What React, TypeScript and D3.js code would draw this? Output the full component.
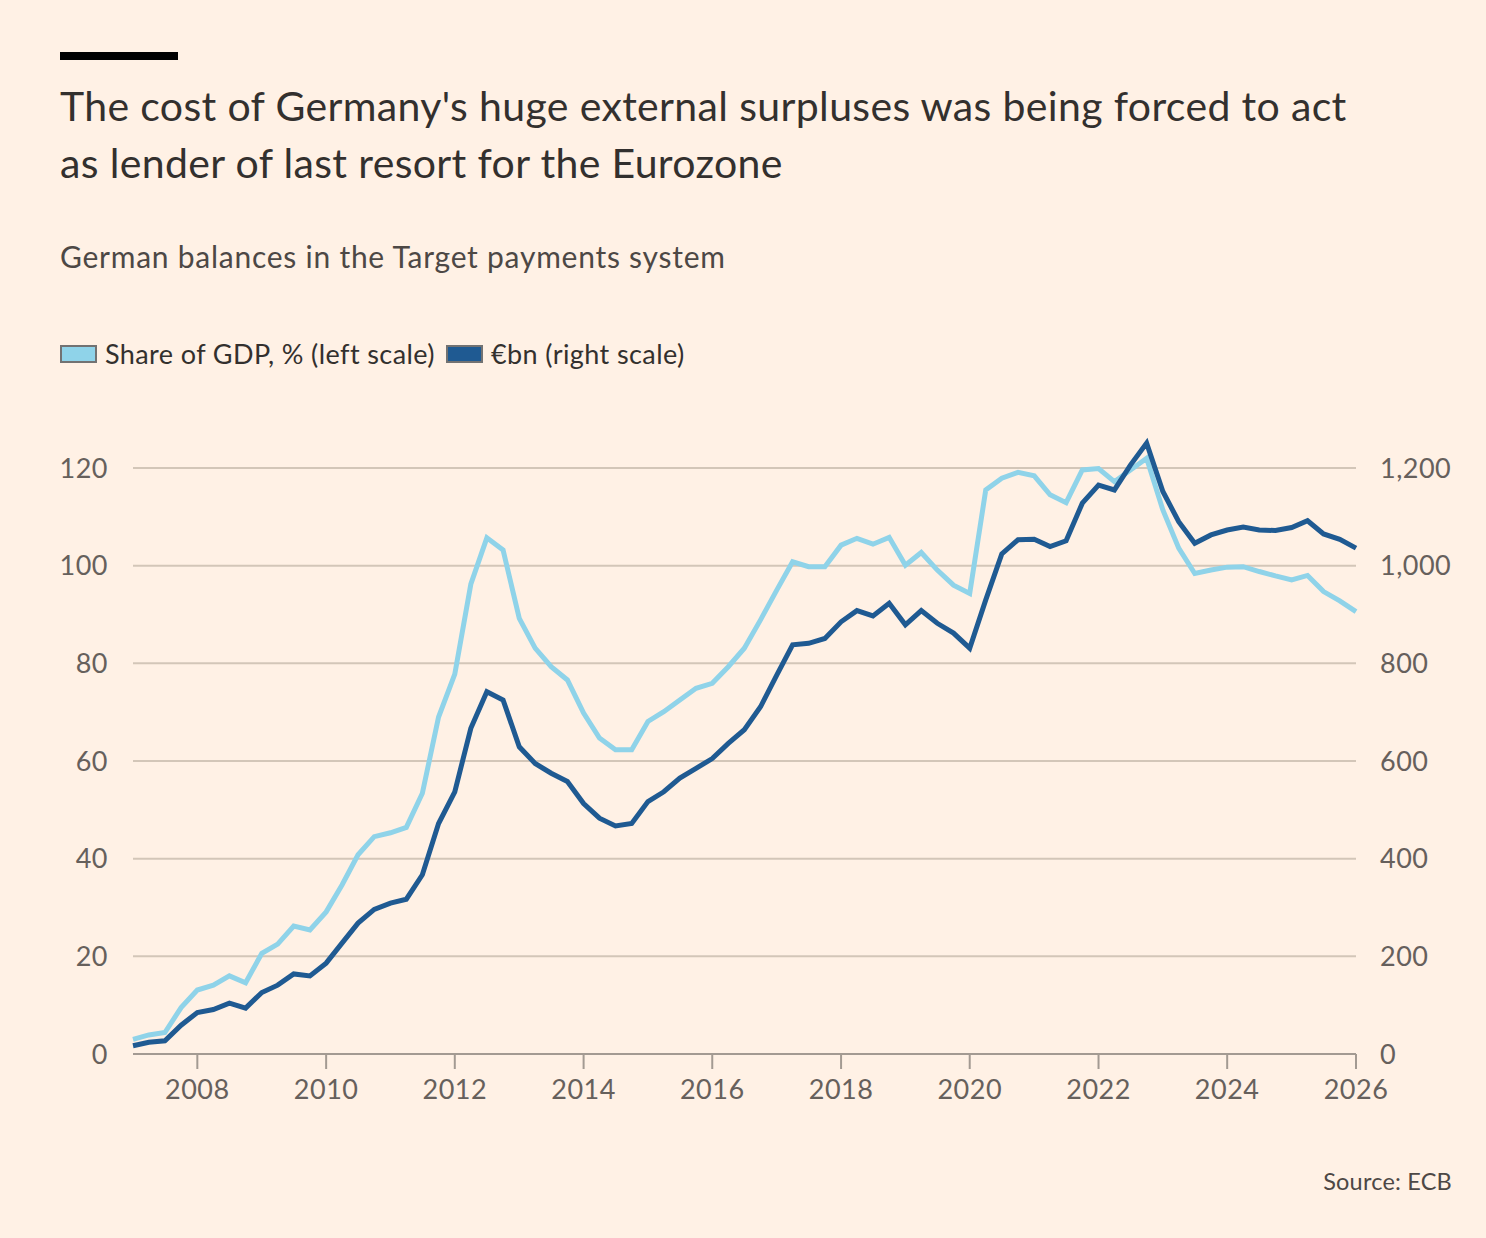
import { useEffect, useRef } from "react";
import * as d3 from "d3";

// Quarterly observations, 2007Q1 to 2026Q1
const quarters = [
  "2007Q1", "2007Q2", "2007Q3", "2007Q4",
  "2008Q1", "2008Q2", "2008Q3", "2008Q4",
  "2009Q1", "2009Q2", "2009Q3", "2009Q4",
  "2010Q1", "2010Q2", "2010Q3", "2010Q4",
  "2011Q1", "2011Q2", "2011Q3", "2011Q4",
  "2012Q1", "2012Q2", "2012Q3", "2012Q4",
  "2013Q1", "2013Q2", "2013Q3", "2013Q4",
  "2014Q1", "2014Q2", "2014Q3", "2014Q4",
  "2015Q1", "2015Q2", "2015Q3", "2015Q4",
  "2016Q1", "2016Q2", "2016Q3", "2016Q4",
  "2017Q1", "2017Q2", "2017Q3", "2017Q4",
  "2018Q1", "2018Q2", "2018Q3", "2018Q4",
  "2019Q1", "2019Q2", "2019Q3", "2019Q4",
  "2020Q1", "2020Q2", "2020Q3", "2020Q4",
  "2021Q1", "2021Q2", "2021Q3", "2021Q4",
  "2022Q1", "2022Q2", "2022Q3", "2022Q4",
  "2023Q1", "2023Q2", "2023Q3", "2023Q4",
  "2024Q1", "2024Q2", "2024Q3", "2024Q4",
  "2025Q1", "2025Q2", "2025Q3", "2025Q4",
  "2026Q1",
];

// Share of GDP, % (left scale)
const shareOfGdp = [
  3.0, 3.9, 4.4, 9.5,
  13.1, 14.1, 16.0, 14.6,
  20.6, 22.5, 26.2, 25.4,
  29.1, 34.6, 40.8, 44.5,
  45.3, 46.4, 53.4, 69.0,
  77.8, 96.2, 105.7, 103.2,
  89.2, 83.1, 79.3, 76.6,
  69.8, 64.7, 62.3, 62.3,
  68.1, 70.1, 72.5, 74.9,
  75.9, 79.3, 83.1, 88.9,
  95.0, 100.8, 99.8, 99.8,
  104.2, 105.6, 104.4, 105.8,
  100.1, 102.7, 99.1, 96.0,
  94.3, 115.5, 117.9, 119.1,
  118.4, 114.5, 112.9, 119.6,
  119.9, 117.2, 119.6, 122.0,
  111.4, 103.6, 98.4, 99.1,
  99.7, 99.8, 98.8, 97.9,
  97.1, 98.0, 94.7, 92.8,
  90.6,
];

// €bn (right scale)
const euroBn = [
  17, 24, 27, 59,
  85, 91, 104, 94,
  126, 141, 164, 160,
  186, 227, 268, 296,
  309, 317, 367, 472,
  537, 667, 742, 725,
  629, 595, 575, 558,
  513, 483, 467, 472,
  517, 537, 565, 585,
  605, 636, 664, 711,
  776, 838, 841, 851,
  885, 908, 897, 923,
  879, 908, 882, 862,
  831, 930, 1024, 1053,
  1054, 1039, 1051, 1128,
  1165, 1155, 1206, 1251,
  1152, 1090, 1046, 1063,
  1073, 1079, 1073, 1072,
  1078, 1092, 1065, 1054,
  1036,
];

const yearTicks = [2008, 2010, 2012, 2014, 2016, 2018, 2020, 2022, 2024, 2026];
const leftTicks = [0, 20, 40, 60, 80, 100, 120];
const rightTicks = [0, 200, 400, 600, 800, 1000, 1200];

const WIDTH = 1486;
const HEIGHT = 1238;
const FONT = "Lato, 'Noto Sans', sans-serif";

const COLORS = {
  bg: "#fff1e5",
  light: "#8fd3e9",
  dark: "#1f5a92",
  title: "#33302e",
  text: "#4d4845",
  tick: "#66605c",
  grid: "#d3c6b8",
  axis: "#a39a92",
  swatchStroke: "#727272",
};

function parseQuarter(q: string) {
  const [y, n] = q.split("Q");
  return new Date(+y, (+n - 1) * 3, 1);
}

export default function App() {
  const svgRef = useRef<SVGSVGElement>(null);

  useEffect(() => {
    if (!svgRef.current) return;
    document.body.style.margin = "0";
    document.body.style.background = COLORS.bg;

    const svg = d3.select(svgRef.current);
    svg.selectAll("*").remove();

    const margin = { top: 468, right: 130, bottom: 184, left: 133 };
    const dates = quarters.map(parseQuarter);

    const x = d3.scaleTime()
      .domain([new Date(2007, 0, 1), new Date(2026, 0, 1)])
      .range([margin.left, WIDTH - margin.right]);
    const yLeft = d3.scaleLinear().domain([0, 120]).range([HEIGHT - margin.bottom, margin.top]);
    const yRight = d3.scaleLinear().domain([0, 1200]).range([HEIGHT - margin.bottom, margin.top]);

    svg.append("rect").attr("width", WIDTH).attr("height", HEIGHT).attr("fill", COLORS.bg);

    // Header
    svg.append("rect").attr("x", 60).attr("y", 52).attr("width", 118).attr("height", 8).attr("fill", "#000");

    const title = svg.append("text")
      .attr("font-family", FONT)
      .attr("font-size", 41)
      .attr("letter-spacing", 0.35)
      .attr("fill", COLORS.title);
    title.append("tspan").attr("x", 60).attr("y", 121)
      .text("The cost of Germany's huge external surpluses was being forced to act");
    title.append("tspan").attr("x", 60).attr("y", 178)
      .text("as lender of last resort for the Eurozone");

    svg.append("text")
      .attr("x", 60).attr("y", 268)
      .attr("font-family", FONT).attr("font-size", 30)
      .attr("letter-spacing", 0.75)
      .attr("fill", COLORS.text)
      .text("German balances in the Target payments system");

    // Legend
    const legend = [
      { label: "Share of GDP, % (left scale)", color: COLORS.light, x: 60 },
      { label: "€bn (right scale)", color: COLORS.dark, x: 446 },
    ];
    const lg = svg.append("g").selectAll("g").data(legend).join("g")
      .attr("transform", d => `translate(${d.x},0)`);
    lg.append("rect")
      .attr("x", 1).attr("y", 346).attr("width", 35).attr("height", 16)
      .attr("fill", d => d.color)
      .attr("stroke", COLORS.swatchStroke).attr("stroke-width", 2);
    lg.append("text")
      .attr("x", 45).attr("y", 364)
      .attr("font-family", FONT).attr("font-size", 27)
      .attr("letter-spacing", 0.4)
      .attr("fill", COLORS.title)
      .text(d => d.label);

    // Grid
    svg.append("g").selectAll("line")
      .data(leftTicks.filter(t => t > 0))
      .join("line")
      .attr("x1", margin.left).attr("x2", WIDTH - margin.right)
      .attr("y1", d => yLeft(d)).attr("y2", d => yLeft(d))
      .attr("stroke", COLORS.grid).attr("stroke-width", 2);

    // Left labels
    svg.append("g").selectAll("text")
      .data(leftTicks)
      .join("text")
      .attr("x", 108)
      .attr("y", d => yLeft(d))
      .attr("dy", "0.36em")
      .attr("text-anchor", "end")
      .attr("font-family", FONT).attr("font-size", 27)
      .attr("letter-spacing", 0.5)
      .attr("fill", COLORS.tick)
      .text(d => d);

    // Right labels
    svg.append("g").selectAll("text")
      .data(rightTicks)
      .join("text")
      .attr("x", 1380)
      .attr("y", d => yRight(d))
      .attr("dy", "0.36em")
      .attr("text-anchor", "start")
      .attr("font-family", FONT).attr("font-size", 27)
      .attr("letter-spacing", 0.5)
      .attr("fill", COLORS.tick)
      .text(d => d3.format(",")(d));

    // X axis
    const baseY = yLeft(0);
    svg.append("line")
      .attr("x1", margin.left).attr("x2", WIDTH - margin.right)
      .attr("y1", baseY).attr("y2", baseY)
      .attr("stroke", COLORS.axis).attr("stroke-width", 2);

    const xt = svg.append("g").selectAll("g")
      .data(yearTicks)
      .join("g")
      .attr("transform", d => `translate(${x(new Date(d, 0, 1))},0)`);
    xt.append("line")
      .attr("y1", baseY).attr("y2", baseY + 15)
      .attr("stroke", COLORS.axis).attr("stroke-width", 2);
    xt.append("text")
      .attr("y", 1099)
      .attr("text-anchor", "middle")
      .attr("font-family", FONT).attr("font-size", 27)
      .attr("letter-spacing", 0.5)
      .attr("fill", COLORS.tick)
      .text(d => d);

    // Lines
    const lightLine = d3.line<number>()
      .x((_, i) => x(dates[i]))
      .y(d => yLeft(d));
    const darkLine = d3.line<number>()
      .x((_, i) => x(dates[i]))
      .y(d => yRight(d));

    svg.append("path")
      .datum(shareOfGdp)
      .attr("d", lightLine)
      .attr("fill", "none")
      .attr("stroke", COLORS.light)
      .attr("stroke-width", 5);

    svg.append("path")
      .datum(euroBn)
      .attr("d", darkLine)
      .attr("fill", "none")
      .attr("stroke", COLORS.dark)
      .attr("stroke-width", 5);

    // Source
    svg.append("text")
      .attr("x", 1452).attr("y", 1190)
      .attr("text-anchor", "end")
      .attr("font-family", FONT).attr("font-size", 23.5)
      .attr("letter-spacing", 0.2)
      .attr("fill", COLORS.text)
      .text("Source: ECB");
  }, []);

  return (
    <svg
      ref={svgRef}
      width={WIDTH}
      height={HEIGHT}
      style={{ position: "absolute", left: 0, top: 0, display: "block" }}
    />
  );
}
